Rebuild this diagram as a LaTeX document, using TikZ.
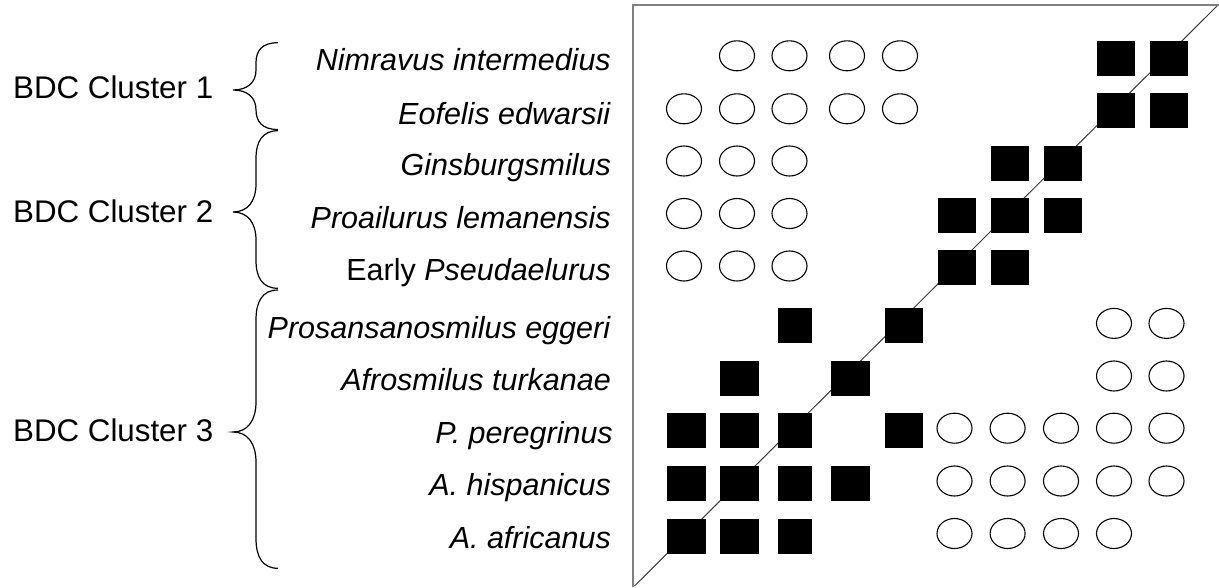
\documentclass[tikz,border=0pt]{standalone}
\usepackage{fontspec}
\setmainfont{Liberation Sans}
\usetikzlibrary{shapes.geometric}
\begin{document}
\begin{tikzpicture}[x=1pt,y=-1pt,
  circ/.style={ellipse,draw=black,line width=1.1pt,minimum width=35pt,minimum height=30pt,inner sep=0pt},
  sq/.style={rectangle,fill=black,minimum width=38.7pt,minimum height=35pt,inner sep=0pt},
  sqn/.style={sq,minimum width=34pt},
  lab/.style={anchor=base east,inner sep=0pt,font=\fontsize{30.5}{36}\selectfont},
  clab/.style={anchor=base west,inner sep=0pt,font=\fontsize{31.3}{36}\selectfont},
  bracel/.style={draw=black,line width=1.2pt},
  framel/.style={draw={rgb,255:red,128;green,128;blue,128},line width=1.8pt},
  diagl/.style={draw={rgb,255:red,60;green,60;blue,60},line width=1pt}]
\useasboundingbox (0,0) rectangle (1219,587);

% frame and diagonal
\coordinate (fbl) at (633,587);
\coordinate (ftl) at (633,5);
\coordinate (ftr) at (1219,5);
\coordinate (dbl) at (634.5,586);
\coordinate (dtr) at (1218,5);
\draw[diagl] (dbl) -- (dtr);
\draw[framel] (fbl) -- (ftl) -- (ftr);

% open circles
\foreach \r/\cols in {1/{2,3,4,5},2/{1,2,3,4,5},3/{1,2,3},4/{1,2,3},5/{1,2,3},
                      6/{9,10},7/{9,10},8/{6,7,8,9,10},9/{6,7,8,9,10},10/{6,7,8,9}}{
  \foreach \c in \cols {
    \pgfmathsetmacro\xx{{684,737,789.5,847,900,954.5,1007.6,1061,1114,1166.5}[\c-1]}
    \pgfmathsetmacro\yy{{55.8,108.8,161,213.5,266,323.4,376,428.2,481,533.5}[\r-1]}
    \node[circ] (o\r-\c) at (\xx,\yy) {};
  }
}

% filled squares
\foreach \r/\cols in {1/{9,10},2/{9,10},3/{7,8},4/{6,7,8},5/{6,7},
                      6/{3,5},7/{2,4},8/{1,2,3,5},9/{1,2,3,4},10/{1,2,3}}{
  \foreach \c in \cols {
    \pgfmathsetmacro\xx{{686.7,739.3,795,850.6,904,957,1010,1063,1116,1169}[\c-1]}
    \pgfmathsetmacro\yy{{58.5,110.5,163,215.3,267.5,325.3,378,430,483.5,536}[\r-1]}
    \ifnum\c=3
      \node[sqn] (s\r-\c) at (\xx,\yy) {};
    \else
      \node[sq] (s\r-\c) at (\xx,\yy) {};
    \fi
  }
}

% species labels
\node[lab] (l1) at (611,70.3) {\textit{Nimravus intermedius}};
\node[lab] (l2) at (611,124) {\textit{Eofelis edwarsii}};
\node[lab] (l3) at (611,175.8) {\textit{Ginsburgsmilus}};
\node[lab] (l4) at (611,228.3) {\textit{Proailurus lemanensis}};
\node[lab] (l5) at (611,280.8) {Early \textit{Pseudaelurus}};
\node[lab] (l6) at (611,338.2) {\textit{Prosansanosmilus eggeri}};
\node[lab] (l7) at (611,390.8) {\textit{Afrosmilus turkanae}};
\node[lab] (l8) at (613,443) {\textit{P. peregrinus}};
\node[lab] (l9) at (611,495.8) {\textit{A. hispanicus}};
\node[lab] (l10) at (611,548.3) {\textit{A. africanus}};

% cluster labels
\node[clab] (k1) at (13,98.3) {BDC Cluster 1};
\node[clab] (k2) at (13,222.7) {BDC Cluster 2};
\node[clab] (k3) at (13,441.7) {BDC Cluster 3};

% braces: ends at x=278, spine x=256, tip x=233
\foreach \t/\m/\b/\q in {42.7/90/129.5/20, 130.7/212/288.3/28, 290/432/568.3/30}{
  \draw[bracel] (278,\t) .. controls (262,\t) and (256,\t+0.4*\q) .. (256,\q+\t)
    -- (256,\m-\q) .. controls (256,\m-0.4*\q) and (248,\m) .. (233,\m)
    .. controls (248,\m) and (256,\m+0.4*\q) .. (256,\m+\q)
    -- (256,\b-\q) .. controls (256,\b-0.4*\q) and (262,\b) .. (278,\b);
}
\end{tikzpicture}
\end{document}
